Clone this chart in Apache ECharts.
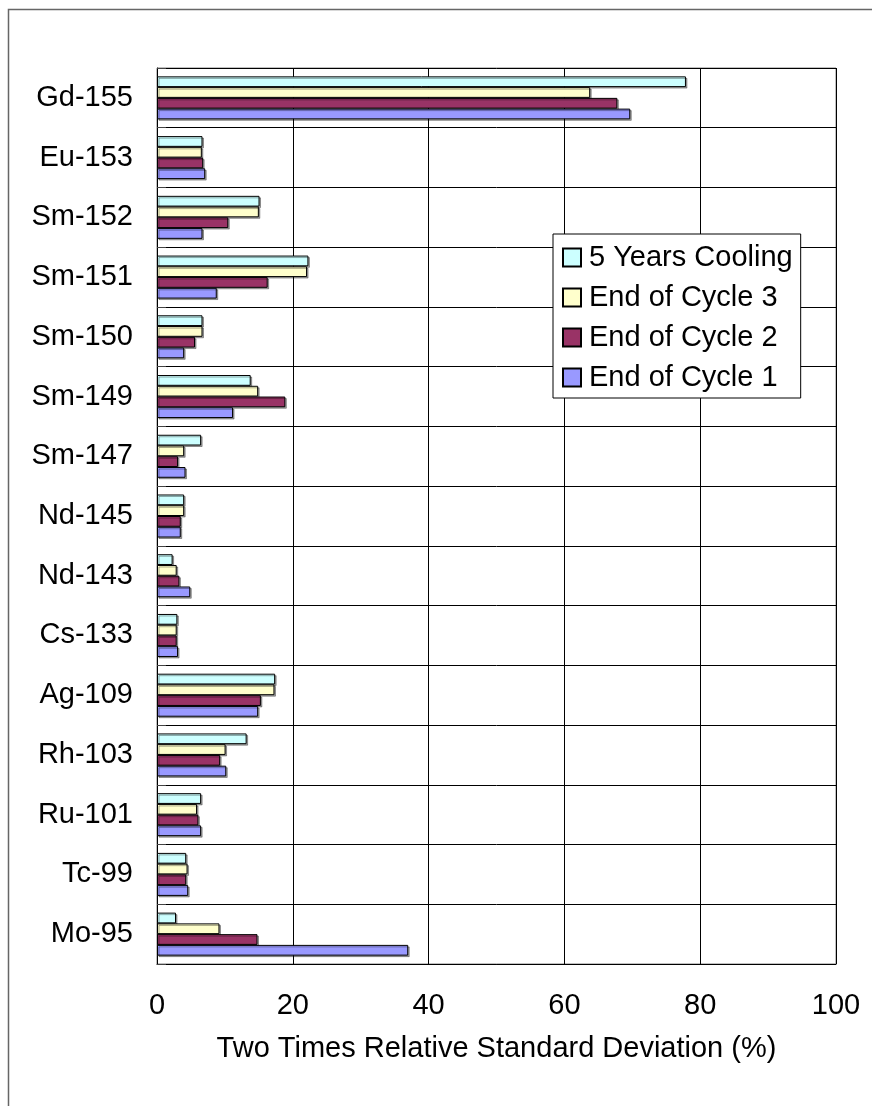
<!DOCTYPE html>
<html style="height: 100%">
<head>
    <meta charset="utf-8">
</head>
<body style="height: 100%; margin: 0; background-color: #fff;">
<div id="container" style="width: 872px; height: 1106px"></div>
<script type="text/javascript" src="https://cdn.jsdelivr.net/npm/echarts@6/dist/echarts.min.js"></script>
<script type="text/javascript">
    // nuclides, bottom to top as on the chart
    var nuclides = ['Mo-95', 'Tc-99', 'Ru-101', 'Rh-103', 'Ag-109', 'Cs-133', 'Nd-143', 'Nd-145',
                    'Sm-147', 'Sm-149', 'Sm-150', 'Sm-151', 'Sm-152', 'Eu-153', 'Gd-155'];
    var seriesNames = ['5 Years Cooling', 'End of Cycle 3', 'End of Cycle 2', 'End of Cycle 1'];
    var xTicks = [0, 20, 40, 60, 80, 100];

    var cooling5y = [2.8, 4.3, 6.5, 13.2, 17.4, 3.0, 2.3, 4.0, 6.5, 13.8, 6.7, 22.3, 15.1, 6.7, 77.9];
    var cycle3    = [9.2, 4.5, 5.9, 10.1, 17.3, 2.9, 2.9, 4.0, 4.0, 14.9, 6.7, 22.1, 15.0, 6.6, 63.8];
    var cycle2    = [14.8, 4.3, 6.1, 9.3, 15.3, 2.9, 3.3, 3.5, 3.1, 18.9, 5.6, 16.3, 10.5, 6.8, 67.8];
    var cycle1    = [37.0, 4.6, 6.5, 10.2, 14.9, 3.1, 4.9, 3.5, 4.2, 11.2, 4.0, 8.8, 6.7, 7.1, 69.7];

    var colors = ['#ccffff', '#ffffcc', '#993366', '#9999ff'];
    var values = [cooling5y, cycle3, cycle2, cycle1];

    var dom = document.getElementById("container");
    var myChart = echarts.init(dom);

    var font = 'Arial, "Liberation Sans", sans-serif';

    var option = {
        animation: false,
        backgroundColor: '#fff',
        graphic: [{
            type: 'rect',
            shape: {x: 8.5, y: 9.5, width: 1000, height: 1200},
            style: {fill: 'none', stroke: '#666', lineWidth: 1.5},
            silent: true
        }],
        legend: {
            orient: 'vertical',
            left: 553,
            top: 234,
            data: seriesNames,
            icon: 'rect',
            itemWidth: 18,
            itemHeight: 18,
            itemGap: 11,
            padding: [9, 8, 6, 9],
            borderColor: '#000',
            borderWidth: 1,
            backgroundColor: '#fff',
            textStyle: {fontFamily: font, fontSize: 29, lineHeight: 29, color: '#000', padding: [0, 0, 0, 3]}
        },
        grid: {
            left: 157,
            right: 36,
            top: 68,
            bottom: 142,
            show: true,
            borderColor: '#808080',
            borderWidth: 1
        },
        xAxis: {
            type: 'value',
            min: 0,
            max: 100,
            interval: 20,
            name: 'Two Times Relative Standard Deviation (%)',
            nameLocation: 'middle',
            nameGap: 70,
            nameTextStyle: {fontFamily: font, fontSize: 29, color: '#000'},
            axisLine: {show: true, lineStyle: {color: '#000', width: 1}},
            axisTick: {show: false},
            axisLabel: {
                fontFamily: font, fontSize: 29, color: '#000', margin: 27,
                formatter: function (v) { return xTicks.indexOf(v) >= 0 ? String(v) : ''; }
            },
            splitLine: {show: true, lineStyle: {color: '#000', width: 1}}
        },
        yAxis: {
            type: 'category',
            data: nuclides,
            axisLine: {show: true, lineStyle: {color: '#000', width: 1}},
            axisTick: {show: true, inside: true, length: 9, lineStyle: {color: '#444'}},
            axisLabel: {fontFamily: font, fontSize: 29, color: '#000', margin: 24},
            splitLine: {show: true, lineStyle: {color: '#000', width: 1}}
        },
        series: seriesNames.map(function (name, i) {
            return {
                name: name,
                type: 'bar',
                data: values[i],
                barGap: '0%',
                barCategoryGap: '28%',
                itemStyle: {
                    color: colors[i],
                    borderColor: '#000',
                    borderWidth: 1,
                    shadowColor: 'rgba(0,0,0,0.35)',
                    shadowOffsetX: 1.5,
                    shadowOffsetY: 1.5,
                    shadowBlur: 0
                }
            };
        })
    };

    myChart.setOption(option);
</script>
</body>
</html>
